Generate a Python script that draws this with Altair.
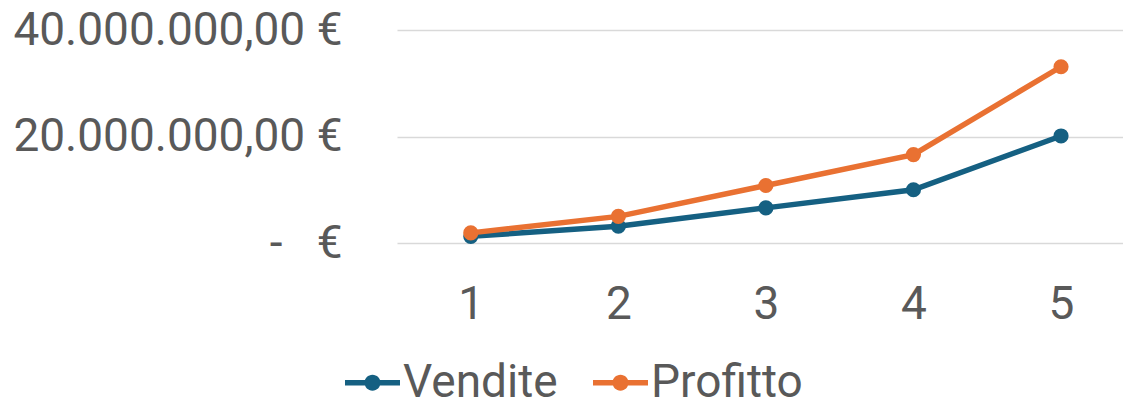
import altair as alt
import pandas as pd

categories = [1, 2, 3, 4, 5]
vendite = [1.25e6, 3.15e6, 6.6e6, 10.0e6, 20.1e6]
profitto = [1.9e6, 5.0e6, 10.8e6, 16.6e6, 33.1e6]
series_names = ["Vendite", "Profitto"]
series_colors = ["#156082", "#E97132"]
y_ticks = [0, 20000000, 40000000]
y_tick_labels = ["-\u00a0\u00a0\u00a0\u20ac", "20.000.000,00 \u20ac", "40.000.000,00 \u20ac"]

rows = []
for c, v in zip(categories, vendite):
    rows.append({"x": c, "value": v, "serie": "Vendite"})
for c, v in zip(categories, profitto):
    rows.append({"x": c, "value": v, "serie": "Profitto"})
df = pd.DataFrame(rows)

label_expr = " : ".join(
    f"datum.value == {t} ? '{l}'" for t, l in zip(y_ticks, y_tick_labels)
) + " : ''"

FONT = "Roboto"
TXT = "#595959"
FS = 46

symbol_path = ("M-1,-0.1L1,-0.1L1,0.1L-1,0.1Z "
               "M-0.29,0A0.29,0.29,0,1,1,0.29,0A0.29,0.29,0,1,1,-0.29,0Z")

x_enc = alt.X("x:Q",
              scale=alt.Scale(domain=[0.5, 5.42], nice=False, zero=False),
              axis=alt.Axis(values=categories, grid=False, domain=False, ticks=False,
                            title=None, labelFontSize=FS, labelFont=FONT,
                            labelColor=TXT, labelPadding=39, format="d"))
y_enc = alt.Y("value:Q",
              scale=alt.Scale(domain=[0, 40000000], nice=False),
              axis=alt.Axis(values=y_ticks, labelExpr=label_expr, domain=False,
                            ticks=False, title=None, labelFontSize=FS,
                            labelFont=FONT, labelColor=TXT, labelPadding=55,
                            labelLimit=500,
                            gridColor="#d9d9d9", gridWidth=1.5))
color_scale = alt.Scale(domain=series_names, range=series_colors)

legend = alt.Legend(
    title=None, orient="none", direction="horizontal",
    legendX=-52, legendY=325,
    symbolType=symbol_path, symbolSize=3025,
    symbolStrokeWidth=0, symbolOpacity=1,
    symbolFillColor={"expr": "scale('color', datum.value)"},
    labelFontSize=FS, labelFont=FONT, labelColor=TXT,
    labelOffset=3, columnPadding=35, labelLimit=400,
)

base = alt.Chart(df)

lines = base.mark_line(strokeWidth=5.5).encode(
    x=x_enc, y=y_enc,
    color=alt.Color("serie:N", scale=color_scale, sort=series_names, legend=legend),
    order=alt.Order("x:Q"),
)

points = base.mark_point(filled=True, size=230, opacity=1).encode(
    x=x_enc, y=y_enc,
    color=alt.Color("serie:N", scale=color_scale, sort=series_names, legend=legend),
)

chart = alt.layer(lines, points).properties(
    width=726,
    height=213,
    autosize=alt.AutoSizeParams(type="none"),
    padding={"left": 389, "top": 22, "right": 0, "bottom": 162},
).configure_view(stroke=None)

chart.save("out.html", embed_options={"renderer": "svg", "actions": False})
